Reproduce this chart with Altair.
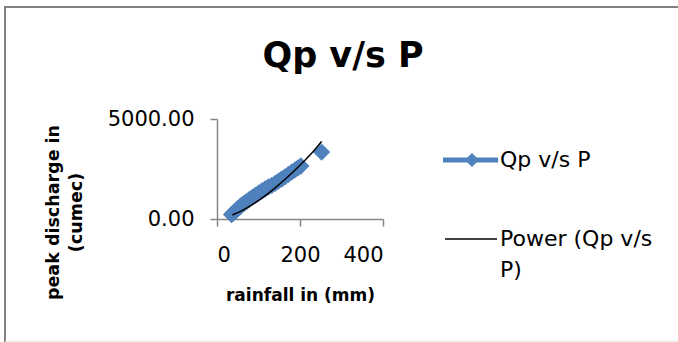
import altair as alt
import pandas as pd

# Observed points (rainfall mm, peak discharge cumec)
rainfall = [35, 38, 42, 46, 50, 55, 60, 66, 72, 78, 85, 92, 100, 108, 116,
            124, 132, 140, 148, 156, 164, 172, 180, 188, 195, 202, 252]
peak = [220, 280, 360, 430, 520, 600, 700, 790, 880, 980, 1080, 1180, 1290,
        1400, 1500, 1600, 1680, 1780, 1890, 2000, 2110, 2230, 2340, 2460,
        2560, 2650, 3345]

# Power trendline
trend_x = [37, 60, 85, 110, 135, 160, 185, 210, 235, 252]
trend_y = [200, 420, 720, 1070, 1470, 1910, 2390, 2900, 3450, 3880]

legend_labels = ["Qp v/s P", "Power (Qp v/s", "P)"]
title_text = "Qp v/s P"

BLUE = "#4F81BD"
FONT = "DejaVu Sans"

pts = pd.DataFrame({"rain": rainfall, "peak": peak})
trend = pd.DataFrame({"rain": trend_x, "peak": trend_y})
one = pd.DataFrame({"k": [0]})

xs = alt.Scale(domain=[0, 400], nice=False)
ys = alt.Scale(domain=[0, 5000], nice=False)

x_axis = alt.Axis(values=[0, 200, 400], title="rainfall in (mm)", titleFontWeight="bold",
                  titleFontSize=17, titleFont=FONT, titleY=76, titleBaseline="middle",
                  labelPadding=18)
y_axis = alt.Axis(values=[0, 5000], format=".2f", title=["peak discharge in", "(cumec)"],
                  titleFontWeight="bold", titleFontSize=17.5, titleFont=FONT, titleAngle=270,
                  titleX=-159, titleY=93, titleAlign="center", titleBaseline="alphabetic",
                  titleLineHeight=23, labelPadding=16)

frame = alt.Chart(one).mark_rect(fill=None, stroke="#808080", strokeWidth=2).encode(
    x=alt.value(-212), x2=alt.value(470), y=alt.value(-112), y2=alt.value(230))
bottom_line = alt.Chart(one).mark_rule(color="#e6e6e6", strokeWidth=1).encode(
    x=alt.value(-212), x2=alt.value(470), y=alt.value(222))

title_mark = alt.Chart(one).mark_text(text=title_text, align="center", baseline="alphabetic",
                                      font=FONT, fontSize=35, fontWeight="bold",
                                      color="black").encode(
    x=alt.value(126), y=alt.value(-52))

points = alt.Chart(pts).mark_point(shape="diamond", filled=True, size=300, color=BLUE,
                                   opacity=1).encode(
    x=alt.X("rain:Q", scale=xs, axis=x_axis),
    y=alt.Y("peak:Q", scale=ys, axis=y_axis),
)

trend_line = alt.Chart(trend).mark_line(color="black", strokeWidth=1.5,
                                        interpolate="monotone").encode(
    x=alt.X("rain:Q", scale=xs), y=alt.Y("peak:Q", scale=ys))

leg_line1 = alt.Chart(one).mark_rule(color=BLUE, strokeWidth=5).encode(
    x=alt.value(226), x2=alt.value(281), y=alt.value(41))
leg_diam = alt.Chart(one).mark_point(shape="diamond", filled=True, size=200, color=BLUE,
                                     opacity=1).encode(x=alt.value(255), y=alt.value(41))
leg_text1 = alt.Chart(one).mark_text(text=legend_labels[0], align="left", baseline="middle",
                                     font=FONT, fontSize=22, color="black").encode(
    x=alt.value(283), y=alt.value(41))
leg_line2 = alt.Chart(one).mark_rule(color="black", strokeWidth=1.5).encode(
    x=alt.value(228), x2=alt.value(280), y=alt.value(120))
leg_text2 = alt.Chart(one).mark_text(text=legend_labels[1], align="left", baseline="middle",
                                     font=FONT, fontSize=22, color="black").encode(
    x=alt.value(283), y=alt.value(120))
leg_text3 = alt.Chart(one).mark_text(text=legend_labels[2], align="left", baseline="middle",
                                     font=FONT, fontSize=22, color="black").encode(
    x=alt.value(283), y=alt.value(151))

chart = alt.layer(
    frame, bottom_line, title_mark, points, trend_line,
    leg_line1, leg_diam, leg_text1, leg_line2, leg_text2, leg_text3
).properties(
    width=166, height=100,
    padding={"left": 217, "top": 119, "right": 295, "bottom": 123},
    autosize=alt.AutoSizeParams(type="none"),
    background="white",
).configure_view(stroke=None).configure_axis(
    grid=False, domainColor="#868686", tickColor="#868686", tickSize=7,
    labelFont=FONT, labelFontSize=21, labelColor="black", titleColor="black",
    domainWidth=1.5, tickWidth=1.5,
)

chart.save("out.html", embed_options={"renderer": "svg", "actions": False})
